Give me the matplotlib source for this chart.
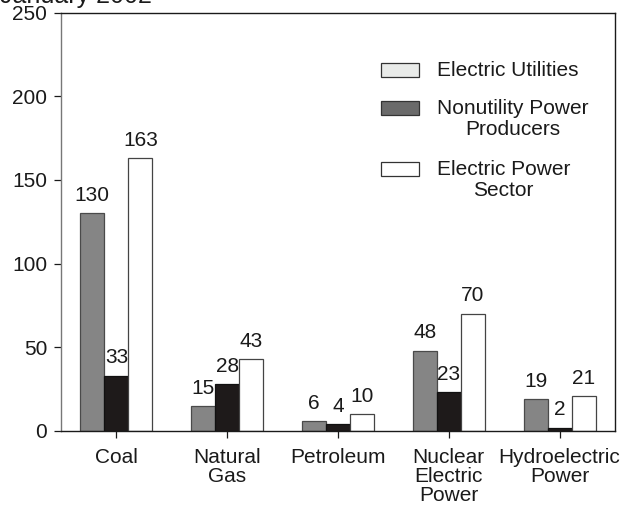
import numpy as np
import matplotlib.pyplot as plt
from matplotlib.patches import Rectangle

plt.rcParams['font.family'] = ['Liberation Sans', 'DejaVu Sans']

categories = ["Coal", "Natural\nGas", "Petroleum", "Nuclear\nElectric\nPower", "Hydroelectric\nPower"]
utilities = [130, 15, 6, 48, 19]
nonutility = [33, 28, 4, 23, 2]
power_sector = [163, 43, 10, 70, 21]

series_labels = ["Electric Utilities", "Nonutility Power\nProducers", "Electric Power\nSector"]
bar_colors = ["#858585", "#1e1a1a", "#ffffff"]
edge_colors = ["#4a4a4a", "#111111", "#444444"]
legend_colors = ["#e9ebe9", "#6a6a6a", "#ffffff"]

FS = 15

fig = plt.figure(figsize=(6.38, 5.08), dpi=100)
ax = fig.add_axes([61 / 638, 1 - 431 / 508, 554 / 638, 418.5 / 508])

x = np.arange(len(categories))
width = 0.217
for i, vals in enumerate([utilities, nonutility, power_sector]):
    pos = x + (i - 1) * width
    ax.bar(pos, vals, width, color=bar_colors[i], edgecolor=edge_colors[i], linewidth=0.9)
    for px, v in zip(pos, vals):
        ax.annotate(str(v), (px, v), xytext=(0, 6), textcoords="offset points",
                    ha="center", va="bottom", fontsize=FS, color="#1a1a1a")

ax.set_xlim(-0.5, 4.5)
ax.set_ylim(0, 250)
ax.set_yticks(range(0, 251, 50))
ax.set_xticks(x)
ax.set_xticklabels(categories, fontsize=FS, linespacing=1.0)
ax.tick_params(axis="y", labelsize=FS, length=5, width=0.9, pad=5, colors="#1a1a1a")
ax.tick_params(axis="x", length=5, width=0.9, pad=7, colors="#1a1a1a")
ax.spines["left"].set_color("#777777")
for s in ["top", "right", "bottom"]:
    ax.spines[s].set_color("#1a1a1a")
for s in ax.spines.values():
    s.set_linewidth(1.0)

# hand-placed legend with centred multi-line labels
patch_centres = [70, 108, 169]
for lab, col, yc in zip(series_labels, legend_colors, patch_centres):
    y_ax = (431 - yc) / 418.5
    ax.add_patch(Rectangle(((381 - 61) / 554, y_ax - 7 / 418.5), 38 / 554, 14 / 418.5,
                           transform=ax.transAxes, facecolor=col, edgecolor="#333333",
                           linewidth=0.9, clip_on=False))
    nlines = lab.count("\n") + 1
    ty = y_ax - (nlines - 1) * 11 / 418.5
    ax.text((437 - 61) / 554, ty, lab, transform=ax.transAxes,
            ha="left", va="center", fontsize=FS, multialignment="center",
            linespacing=1.1, color="#1a1a1a")

fig.text(0.0, 1 - 3 / 508, "January 2002", fontsize=18, ha="left", va="baseline", color="#1a1a1a")

fig.savefig("out.png", dpi=100)
